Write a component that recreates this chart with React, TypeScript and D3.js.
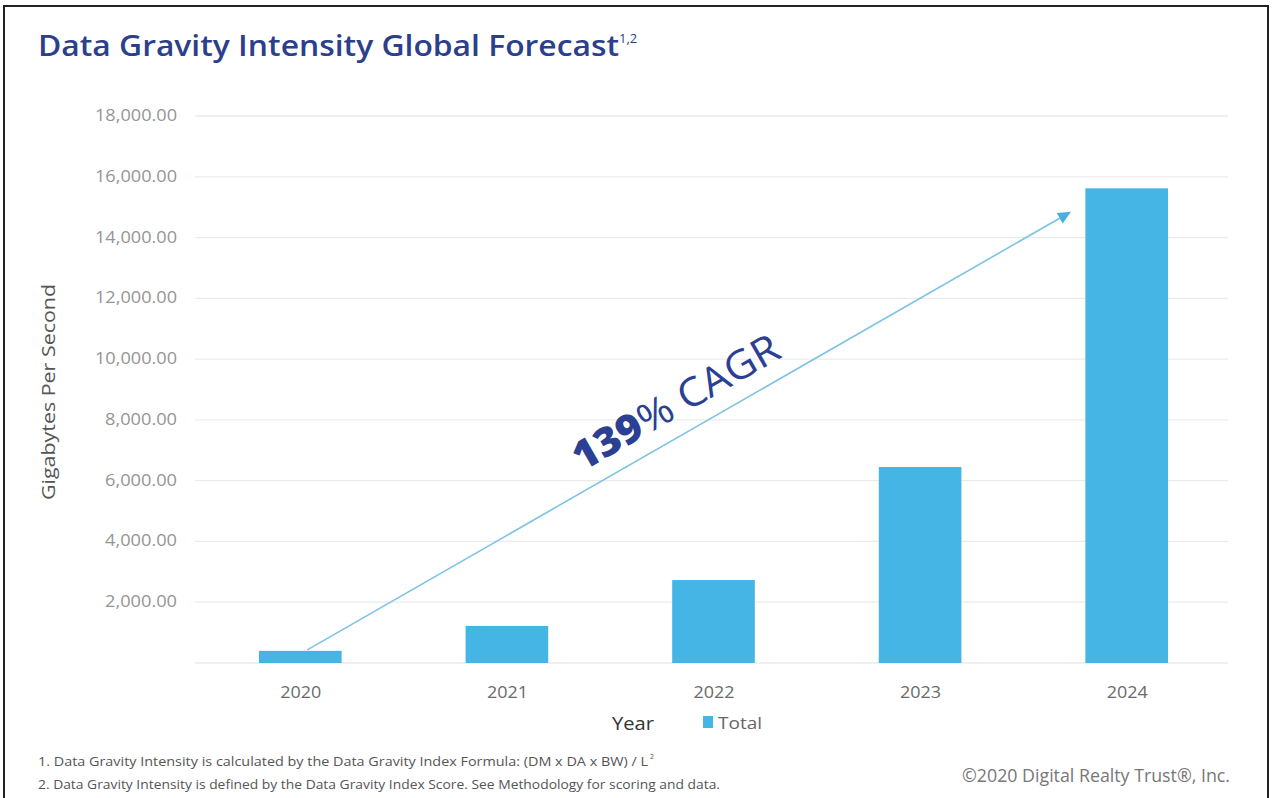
import React from "react";
import * as d3 from "d3";

const years = ["2020", "2021", "2022", "2023", "2024"];
const totals = [400, 1220, 2730, 6450, 15620];
const yTicks = [2000, 4000, 6000, 8000, 10000, 12000, 14000, 16000, 18000];
const footnotes = [
  "1. Data Gravity Intensity is calculated by the Data Gravity Index Formula: (DM x DA x BW) / L",
  "2. Data Gravity Intensity is defined by the Data Gravity Index Score. See Methodology for scoring and data.",
];

const W = 1276;
const H = 798;
const FONT = "'Open Sans', Lato, sans-serif";

export default function App() {
  const x = d3.scaleBand<string>().domain(years).range([197, 1230]).paddingInner(0.6).paddingOuter(0.3);
  const y = d3.scaleLinear().domain([0, 18000]).range([663, 116]);
  const bw = x.bandwidth();
  const cx = (yr: string) => (x(yr) as number) + bw / 2;

  const x0 = cx(years[0]) + 7;
  const y0 = y(totals[0]) - 1;
  const x1 = 1071;
  const y1 = y(14850);
  const ang = (Math.atan2(y1 - y0, x1 - x0) * 180) / Math.PI;
  const headLen = 13;
  const len = Math.hypot(x1 - x0, y1 - y0);
  const ux = (x1 - x0) / len;
  const uy = (y1 - y0) / len;
  const px = -uy, py = ux;
  const head = [
    [x1, y1],
    [x1 - ux * headLen + px * 6, y1 - uy * headLen + py * 6],
    [x1 - ux * headLen - px * 6, y1 - uy * headLen - py * 6],
  ];

  return (
    <svg width={W} height={H} style={{ position: "absolute", left: 0, top: 0, background: "#fff" }}>
      <rect x={4} y={6} width={1264} height={800} fill="#fff" stroke="#222" strokeWidth={2} />
      <text x={38} y={56} fontFamily={FONT} fontSize={29} fontWeight={600} fill="#2c3f8c">
        <tspan textLength={581} lengthAdjust="spacingAndGlyphs">Data Gravity Intensity Global Forecast</tspan>
        <tspan fontSize={13} fontWeight={400} dy={-13}>1,2</tspan>
      </text>

      {[0, ...yTicks].map((t) => (
        <line key={t} x1={195} x2={1228} y1={y(t)} y2={y(t)} stroke="#ebebeb" strokeWidth={1.3} />
      ))}
      {yTicks.map((t) => (
        <text key={t} x={177} y={y(t) + 5} textAnchor="end" fontFamily={FONT} fontSize={15.5} fill="#959595"
          textLength={t >= 10000 ? 82 : 72} lengthAdjust="spacingAndGlyphs">
          {d3.format(",.2f")(t)}
        </text>
      ))}
      <text
        transform={`translate(55, 392) rotate(-90)`}
        textAnchor="middle"
        fontFamily={FONT}
        fontSize={18.5}
        fill="#555"
        textLength={216}
        lengthAdjust="spacingAndGlyphs"
      >
        Gigabytes Per Second
      </text>

      {years.map((yr, i) => (
        <rect key={yr} x={x(yr)} y={y(totals[i])} width={bw} height={y(0) - y(totals[i])} fill="#45b5e6" />
      ))}
      {years.map((yr) => (
        <text key={yr} x={cx(yr) - 20} y={698} fontFamily={FONT} fontSize={16} fill="#6a6a6a"
          textLength={41} lengthAdjust="spacingAndGlyphs">
          {yr}
        </text>
      ))}

      <text x={612} y={730} fontFamily={FONT} fontSize={19} fill="#333" textLength={42} lengthAdjust="spacingAndGlyphs">Year</text>
      <rect x={703} y={716} width={10} height={12} fill="#45b5e6" />
      <text x={718} y={729} fontFamily={FONT} fontSize={17} fill="#666" textLength={44} lengthAdjust="spacingAndGlyphs">Total</text>

      <line x1={x0} y1={y0} x2={x1 - ux * headLen} y2={y1 - uy * headLen} stroke="#7cc3e6" strokeWidth={1.6} />
      <polygon points={head.map((p) => p.join(",")).join(" ")} fill="#4aaedf" />
      <text
        transform={`translate(582, 472) rotate(${ang})`}
        fontFamily={FONT}
        fontSize={40}
        fill="#2b3f93"
        textLength={232}
        lengthAdjust="spacingAndGlyphs"
      >
        <tspan fontWeight={800}>139</tspan>
        <tspan>% CAGR</tspan>
      </text>

      <text x={38} y={766} fontFamily={FONT} fontSize={12} fill="#555" textLength={610} lengthAdjust="spacingAndGlyphs">
        {footnotes[0]}
      </text>
      <text x={650} y={759} fontFamily={FONT} fontSize={7} fill="#555">2</text>
      <text x={38} y={789} fontFamily={FONT} fontSize={12} fill="#555" textLength={682} lengthAdjust="spacingAndGlyphs">
        {footnotes[1]}
      </text>
      <text x={962} y={782} fontFamily={FONT} fontSize={17.5} fill="#777" textLength={268} lengthAdjust="spacingAndGlyphs">
        ©2020 Digital Realty Trust®, Inc.
      </text>
    </svg>
  );
}
